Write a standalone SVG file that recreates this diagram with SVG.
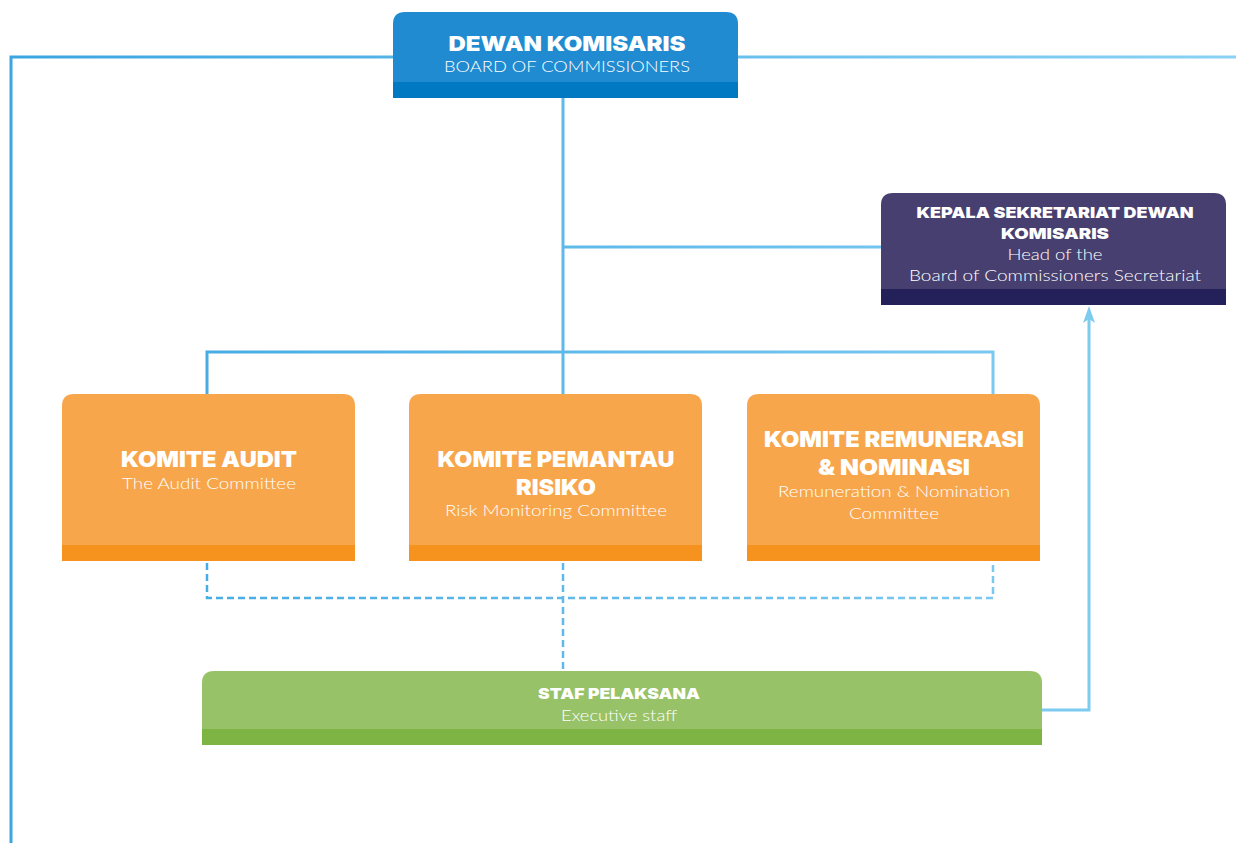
<svg xmlns="http://www.w3.org/2000/svg" width="1236" height="843" viewBox="0 0 1236 843">
  <defs>
    <linearGradient id="lineGrad" gradientUnits="userSpaceOnUse" x1="0" y1="0" x2="1236" y2="0">
      <stop offset="0" stop-color="#3aa5e0"/>
      <stop offset="1" stop-color="#8ad1f5"/>
    </linearGradient>
    <marker id="arrowUp" markerWidth="10" markerHeight="12" refX="5" refY="1" orient="auto" markerUnits="userSpaceOnUse" viewBox="0 0 10 12">
      <path d="M0 0 L12 5 L0 10 L3 5 Z" fill="#7ecbf0"/>
    </marker>
    <style>
      .ln { fill: none; stroke: url(#lineGrad); stroke-width: 3; }
      .dash { fill: none; stroke: url(#lineGrad); stroke-width: 2.5; stroke-dasharray: 7 4; }
      .h { font-family: Inter, Lato, "Liberation Sans", sans-serif; font-weight: 900; fill: #ffffff; text-anchor: middle; }
      .s { font-family: Lato, "Noto Sans", "Liberation Sans", sans-serif; font-weight: 300; fill: #ffffff; text-anchor: middle; font-size: 16px; }
    </style>
  </defs>

  <!-- connectors -->
  <g id="connectors">
    <path class="ln" d="M393 57 H11 V843"/>
    <path class="ln" d="M738 57 H1236"/>
    <path class="ln" d="M563 98 V394"/>
    <path class="ln" d="M563 247 H881"/>
    <path class="ln" d="M207 394 V352 H993 V394"/>
    <path class="dash" d="M207 563 V598 H993 V563"/>
    <path class="dash" d="M563 563 V671"/>
    <path d="M1042 710 H1089 V318" fill="none" stroke="#7ecbf0" stroke-width="3"/>
    <path d="M1089 306 L1095 323 L1089 319 L1083 323 Z" fill="#7ecbf0"/>
  </g>

  <!-- board of commissioners -->
  <g id="node-board">
    <path d="M393 98 V24 Q393 12 405 12 H726 Q738 12 738 24 V98 Z" fill="#208bd0"/>
    <rect x="393" y="82" width="345" height="16" fill="#0079c2"/>
    <text class="h" x="567" y="51" font-size="20" textLength="237" lengthAdjust="spacingAndGlyphs">DEWAN KOMISARIS</text>
    <text class="s" x="567" y="72" font-size="17" textLength="246" lengthAdjust="spacingAndGlyphs">BOARD OF COMMISSIONERS</text>
  </g>

  <!-- secretariat -->
  <g id="node-secretariat">
    <path d="M881 305 V205 Q881 193 893 193 H1214 Q1226 193 1226 205 V305 Z" fill="#473f6f"/>
    <rect x="881" y="289" width="345" height="16" fill="#24205a"/>
    <text class="h" x="1055" y="218" font-size="15" textLength="277" lengthAdjust="spacingAndGlyphs">KEPALA SEKRETARIAT DEWAN</text>
    <text class="h" x="1055" y="239" font-size="15" textLength="108" lengthAdjust="spacingAndGlyphs">KOMISARIS</text>
    <text class="s" x="1055" y="260" textLength="95" lengthAdjust="spacingAndGlyphs">Head of the</text>
    <text class="s" x="1055" y="281" textLength="292" lengthAdjust="spacingAndGlyphs">Board of Commissioners Secretariat</text>
  </g>

  <!-- audit committee -->
  <g id="node-audit">
    <path d="M62 561 V406 Q62 394 74 394 H343 Q355 394 355 406 V561 Z" fill="#f8a64b"/>
    <rect x="62" y="545" width="293" height="16" fill="#f6931f"/>
    <text class="h" x="209" y="467" font-size="22" textLength="176" lengthAdjust="spacingAndGlyphs">KOMITE AUDIT</text>
    <text class="s" x="209" y="489" textLength="174" lengthAdjust="spacingAndGlyphs">The Audit Committee</text>
  </g>

  <!-- risk monitoring committee -->
  <g id="node-risk">
    <path d="M409 561 V406 Q409 394 421 394 H690 Q702 394 702 406 V561 Z" fill="#f8a64b"/>
    <rect x="409" y="545" width="293" height="16" fill="#f6931f"/>
    <text class="h" x="556" y="467" font-size="22" textLength="237" lengthAdjust="spacingAndGlyphs">KOMITE PEMANTAU</text>
    <text class="h" x="556" y="495" font-size="22" textLength="80" lengthAdjust="spacingAndGlyphs">RISIKO</text>
    <text class="s" x="556" y="516" textLength="222" lengthAdjust="spacingAndGlyphs">Risk Monitoring Committee</text>
  </g>

  <!-- remuneration and nomination committee -->
  <g id="node-remuneration">
    <path d="M747 561 V406 Q747 394 759 394 H1028 Q1040 394 1040 406 V561 Z" fill="#f8a64b"/>
    <rect x="747" y="545" width="293" height="16" fill="#f6931f"/>
    <text class="h" x="894" y="447" font-size="22" textLength="260" lengthAdjust="spacingAndGlyphs">KOMITE REMUNERASI</text>
    <text class="h" x="894" y="475" font-size="22" textLength="152" lengthAdjust="spacingAndGlyphs">&amp; NOMINASI</text>
    <text class="s" x="894" y="497" textLength="232" lengthAdjust="spacingAndGlyphs">Remuneration &amp; Nomination</text>
    <text class="s" x="894" y="519" textLength="90" lengthAdjust="spacingAndGlyphs">Committee</text>
  </g>

  <!-- executive staff -->
  <g id="node-staff">
    <path d="M202 745 V683 Q202 671 214 671 H1030 Q1042 671 1042 683 V745 Z" fill="#97c268"/>
    <rect x="202" y="729" width="840" height="16" fill="#7db443"/>
    <text class="h" x="619" y="699" font-size="15" textLength="162" lengthAdjust="spacingAndGlyphs">STAF PELAKSANA</text>
    <text class="s" x="619" y="721" textLength="116" lengthAdjust="spacingAndGlyphs">Executive staff</text>
  </g>
</svg>
